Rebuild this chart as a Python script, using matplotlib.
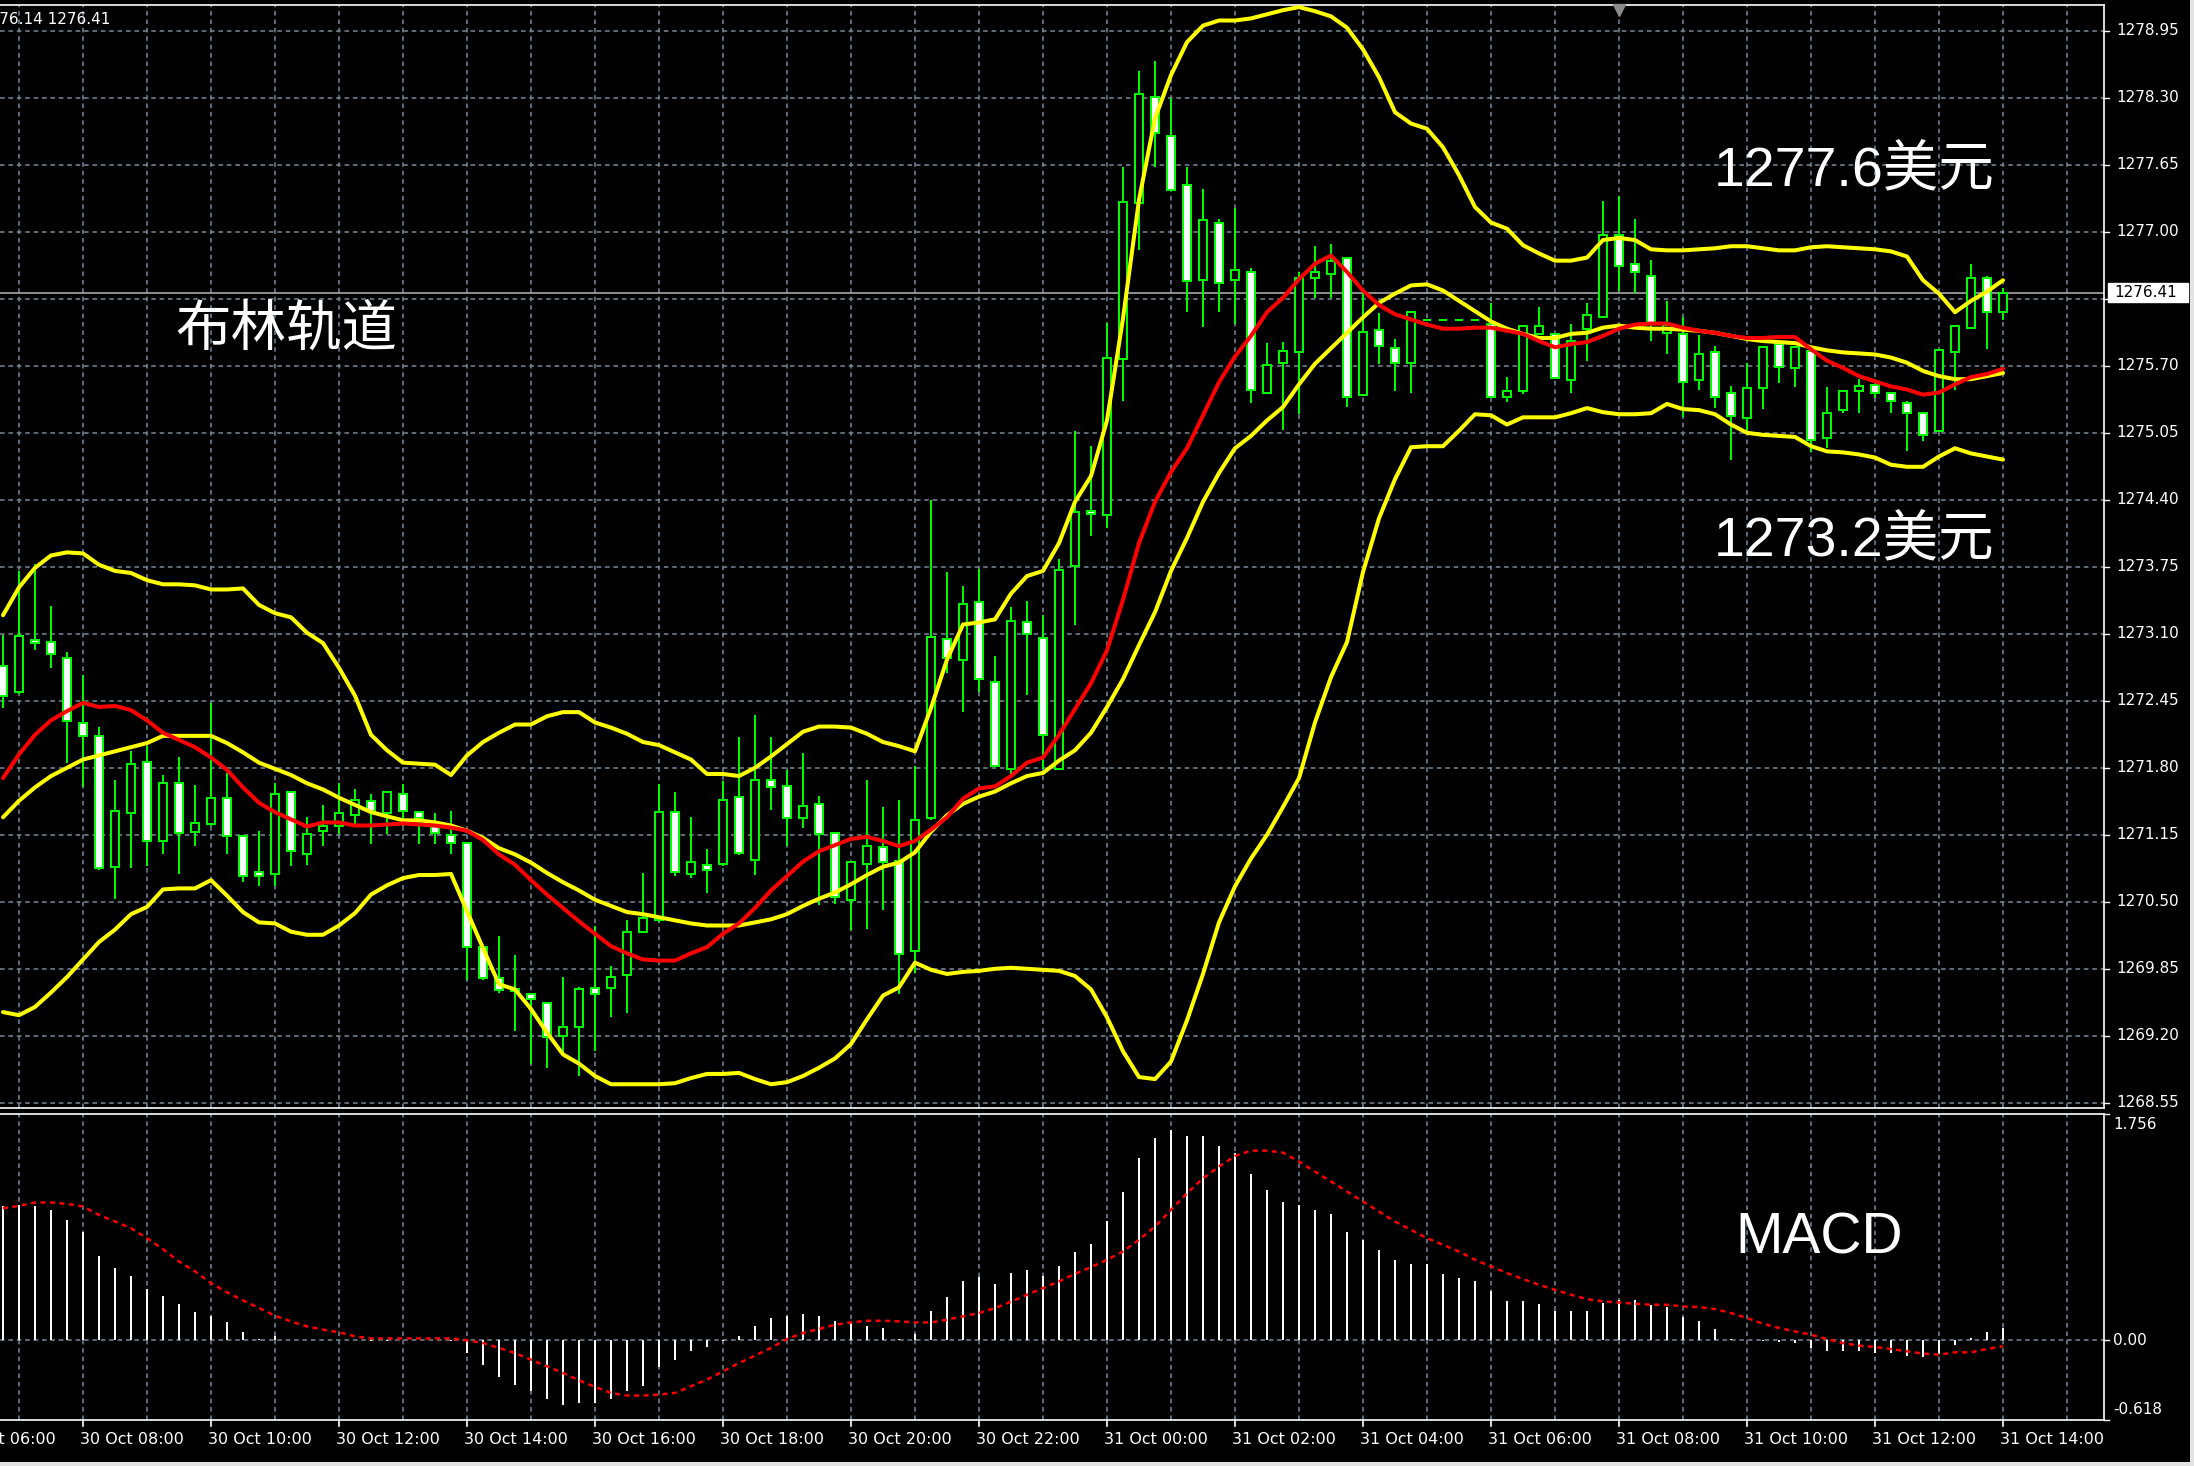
import matplotlib
matplotlib.use("Agg")
import matplotlib.pyplot as plt
from matplotlib.patches import Rectangle
import numpy as np

# ---------------- data (M15 bars, 30 Oct 06:45 -> 31 Oct 14:00) ----------------
opens = [1272.79,1272.54,1273.04,1273.02,1272.87,1272.23,1272.11,1270.84,1271.36,1271.86,
         1271.09,1271.65,1271.18,1271.25,1271.51,1271.14,1270.79,1270.77,1271.57,1270.96,
         1271.19,1271.24,1271.34,1271.48,1271.36,1271.55,1271.37,1271.24,1271.15,1271.07,
         1270.06,1269.76,1269.65,1269.61,1269.52,1269.20,1269.29,1269.66,1269.66,1269.79,
         1270.21,1270.32,1271.37,1270.77,1270.86,1270.87,1271.52,1270.91,1271.68,1271.62,
         1271.31,1271.45,1271.17,1270.52,1270.87,1271.03,1270.90,1270.02,1271.31,1273.05,
         1272.85,1273.41,1272.63,1271.79,1273.21,1273.06,1271.79,1273.76,1274.29,1274.25,
         1275.77,1277.28,1278.31,1277.93,1277.45,1276.53,1277.09,1276.53,1276.61,1275.44,
         1275.73,1275.83,1276.55,1276.59,1276.75,1275.42,1276.05,1275.87,1275.73,1276.14,
         1276.14,1276.14,1276.14,1276.11,1275.40,1275.46,1276.01,1276.01,1275.56,1276.06,
         1276.17,1276.97,1276.69,1276.57,1276.02,1276.01,1275.56,1275.83,1275.44,1275.19,
         1275.48,1275.91,1275.68,1275.84,1275.00,1275.27,1275.46,1275.51,1275.44,1275.34,
         1275.24,1275.07,1275.83,1276.07,1276.55,1276.22]
highs = [1273.09,1273.71,1273.78,1273.37,1272.92,1272.70,1272.20,1271.68,1271.96,1272.01,
         1271.73,1271.90,1271.63,1272.43,1271.75,1271.14,1271.19,1271.65,1271.57,1271.32,
         1271.44,1271.65,1271.59,1271.55,1271.57,1271.64,1271.37,1271.36,1271.38,1271.07,
         1270.08,1270.17,1269.98,1269.61,1269.52,1269.77,1269.67,1270.27,1269.88,1270.32,
         1270.78,1271.64,1271.57,1271.32,1271.01,1271.67,1272.10,1272.31,1272.10,1271.78,
         1271.94,1271.53,1271.17,1270.89,1271.68,1271.42,1271.49,1271.82,1274.40,1273.70,
         1273.56,1273.73,1272.88,1273.36,1273.42,1273.28,1273.83,1275.07,1274.92,1276.12,
         1277.63,1278.56,1278.66,1278.30,1277.63,1277.42,1277.12,1277.23,1276.65,1275.92,
         1275.93,1276.61,1276.86,1276.88,1276.75,1276.41,1276.21,1275.96,1276.23,1276.14,
         1276.14,1276.14,1276.14,1276.31,1275.59,1276.09,1276.27,1276.01,1276.11,1276.31,
         1277.30,1277.35,1277.12,1276.73,1276.33,1276.17,1276.00,1275.89,1275.50,1275.73,
         1275.88,1275.91,1275.88,1275.88,1275.49,1275.46,1275.57,1275.51,1275.44,1275.36,
         1275.24,1275.86,1276.09,1276.69,1276.57,1276.45]
lows = [1272.38,1272.52,1272.94,1272.77,1271.85,1271.61,1270.81,1270.53,1270.83,1270.85,
        1270.96,1270.77,1271.04,1271.24,1270.96,1270.69,1270.65,1270.65,1270.85,1270.86,
        1271.04,1271.16,1271.24,1271.06,1271.16,1271.24,1271.06,1271.06,1270.96,1269.74,
        1269.74,1269.62,1269.25,1268.93,1268.89,1269.04,1268.81,1269.05,1269.38,1269.42,
        1270.20,1270.30,1270.75,1270.73,1270.59,1270.85,1270.95,1270.76,1271.39,1271.04,
        1271.22,1270.47,1270.48,1270.23,1270.24,1270.42,1269.61,1269.81,1271.29,1272.72,
        1272.34,1272.54,1271.82,1271.74,1272.51,1271.79,1271.79,1273.19,1274.05,1274.13,
        1275.36,1276.82,1277.63,1277.41,1276.22,1276.08,1276.22,1276.11,1275.34,1275.44,
        1275.08,1275.23,1276.36,1276.36,1275.30,1275.42,1275.72,1275.46,1275.44,1276.14,
        1276.14,1276.14,1276.14,1275.40,1275.35,1275.43,1276.01,1275.58,1275.44,1275.75,
        1276.17,1276.43,1276.41,1275.94,1275.81,1275.20,1275.47,1275.29,1274.79,1275.07,
        1275.28,1275.53,1275.49,1274.86,1274.90,1275.24,1275.24,1275.39,1275.24,1274.87,
        1274.97,1275.07,1275.47,1276.07,1275.86,1276.14]
closes = [1272.50,1273.08,1273.01,1272.90,1272.25,1272.11,1270.83,1271.38,1271.84,1271.09,
          1271.65,1271.17,1271.26,1271.51,1271.14,1270.75,1270.75,1271.55,1270.99,1271.16,
          1271.24,1271.36,1271.49,1271.38,1271.57,1271.38,1271.31,1271.17,1271.07,1270.06,
          1269.76,1269.64,1269.63,1269.56,1269.19,1269.29,1269.65,1269.61,1269.77,1270.21,
          1270.34,1271.37,1270.79,1270.89,1270.81,1271.49,1270.97,1271.68,1271.61,1271.31,
          1271.43,1271.16,1270.55,1270.89,1271.04,1270.89,1269.99,1271.29,1273.07,1272.87,
          1273.39,1272.66,1271.82,1273.22,1273.10,1272.12,1273.72,1274.28,1274.26,1275.78,
          1277.29,1278.34,1277.96,1277.41,1276.52,1277.11,1276.50,1276.63,1275.47,1275.71,
          1275.84,1276.55,1276.61,1276.72,1275.40,1276.03,1275.89,1275.73,1276.22,1276.14,
          1276.14,1276.14,1276.14,1275.40,1275.46,1276.09,1276.09,1275.58,1275.94,1276.19,
          1276.97,1276.67,1276.61,1276.12,1276.10,1275.54,1275.81,1275.40,1275.21,1275.48,
          1275.88,1275.69,1275.88,1274.98,1275.24,1275.46,1275.50,1275.44,1275.36,1275.24,
          1275.03,1275.85,1276.09,1276.55,1276.22,1276.41]

bb_upper = [1273.28,1273.55,1273.74,1273.86,1273.89,1273.88,1273.77,1273.71,1273.69,1273.62,
            1273.58,1273.58,1273.57,1273.53,1273.53,1273.54,1273.38,1273.30,1273.26,1273.11,
            1273.01,1272.77,1272.50,1272.12,1271.97,1271.85,1271.84,1271.83,1271.73,1271.92,
            1272.05,1272.14,1272.22,1272.22,1272.30,1272.34,1272.34,1272.24,1272.19,1272.13,
            1272.05,1272.02,1271.95,1271.88,1271.74,1271.74,1271.72,1271.80,1271.91,1272.03,
            1272.15,1272.20,1272.20,1272.19,1272.13,1272.05,1272.01,1271.96,1272.38,1272.85,
            1273.19,1273.21,1273.24,1273.49,1273.66,1273.71,1273.98,1274.38,1274.63,1275.17,
            1276.16,1277.31,1278.10,1278.52,1278.84,1279.00,1279.05,1279.05,1279.07,1279.11,
            1279.15,1279.18,1279.14,1279.09,1278.98,1278.77,1278.50,1278.16,1278.05,1278.00,
            1277.82,1277.55,1277.24,1277.09,1277.03,1276.87,1276.79,1276.72,1276.72,1276.75,
            1276.92,1276.94,1276.92,1276.83,1276.82,1276.82,1276.83,1276.84,1276.86,1276.86,
            1276.84,1276.82,1276.82,1276.85,1276.86,1276.85,1276.84,1276.83,1276.81,1276.76,
            1276.53,1276.40,1276.22,1276.33,1276.42,1276.53]
bb_middle = [1271.32,1271.48,1271.61,1271.72,1271.80,1271.88,1271.92,1271.96,1272.00,1272.04,
             1272.11,1272.11,1272.11,1272.11,1272.04,1271.95,1271.85,1271.79,1271.73,1271.65,
             1271.59,1271.51,1271.44,1271.37,1271.33,1271.29,1271.29,1271.27,1271.24,1271.19,
             1271.12,1271.02,1270.96,1270.88,1270.78,1270.69,1270.61,1270.52,1270.46,1270.40,
             1270.38,1270.35,1270.32,1270.29,1270.27,1270.27,1270.27,1270.30,1270.33,1270.38,
             1270.46,1270.53,1270.59,1270.67,1270.76,1270.84,1270.88,1270.98,1271.18,1271.34,
             1271.45,1271.52,1271.57,1271.65,1271.72,1271.75,1271.87,1271.97,1272.14,1272.39,
             1272.66,1272.99,1273.31,1273.71,1274.03,1274.38,1274.66,1274.90,1275.02,1275.17,
             1275.30,1275.52,1275.72,1275.87,1276.02,1276.17,1276.31,1276.40,1276.48,1276.49,
             1276.43,1276.33,1276.23,1276.13,1276.06,1276.01,1275.97,1275.97,1276.01,1276.02,
             1276.07,1276.09,1276.07,1276.06,1276.06,1276.05,1276.04,1276.02,1275.99,1275.96,
             1275.94,1275.93,1275.92,1275.88,1275.85,1275.83,1275.82,1275.81,1275.78,1275.73,
             1275.65,1275.60,1275.57,1275.57,1275.60,1275.63]
ma_red = [1271.70,1271.93,1272.12,1272.26,1272.35,1272.43,1272.39,1272.40,1272.36,1272.26,
          1272.14,1272.07,1272.00,1271.90,1271.78,1271.61,1271.46,1271.37,1271.30,1271.23,
          1271.27,1271.27,1271.24,1271.24,1271.25,1271.26,1271.25,1271.24,1271.22,1271.19,
          1271.10,1270.96,1270.86,1270.71,1270.57,1270.44,1270.31,1270.19,1270.07,1270.00,
          1269.94,1269.93,1269.93,1270.00,1270.06,1270.19,1270.29,1270.44,1270.61,1270.75,
          1270.89,1270.99,1271.05,1271.11,1271.13,1271.09,1271.04,1271.09,1271.20,1271.32,
          1271.50,1271.60,1271.62,1271.72,1271.85,1271.90,1272.12,1272.37,1272.62,1272.94,
          1273.43,1273.98,1274.38,1274.67,1274.90,1275.22,1275.54,1275.79,1275.99,1276.22,
          1276.36,1276.54,1276.69,1276.77,1276.61,1276.43,1276.29,1276.20,1276.15,1276.10,
          1276.06,1276.06,1276.07,1276.07,1276.04,1276.01,1275.94,1275.88,1275.91,1275.93,
          1275.99,1276.06,1276.10,1276.11,1276.11,1276.07,1276.04,1276.02,1275.99,1275.97,
          1275.97,1275.98,1275.98,1275.86,1275.75,1275.68,1275.60,1275.55,1275.50,1275.47,
          1275.42,1275.44,1275.52,1275.59,1275.62,1275.67]
bb_lower = [1269.43,1269.40,1269.48,1269.62,1269.77,1269.94,1270.11,1270.23,1270.38,1270.45,
            1270.62,1270.63,1270.63,1270.71,1270.56,1270.40,1270.30,1270.29,1270.21,1270.18,
            1270.18,1270.27,1270.39,1270.57,1270.66,1270.73,1270.76,1270.76,1270.77,1270.41,
            1270.05,1269.70,1269.65,1269.46,1269.23,1269.02,1268.93,1268.81,1268.73,1268.73,
            1268.73,1268.73,1268.74,1268.79,1268.83,1268.83,1268.84,1268.78,1268.73,1268.75,
            1268.81,1268.89,1268.98,1269.12,1269.36,1269.59,1269.67,1269.91,1269.84,1269.80,
            1269.82,1269.83,1269.85,1269.86,1269.85,1269.84,1269.83,1269.78,1269.65,1269.38,
            1269.05,1268.80,1268.78,1268.95,1269.35,1269.80,1270.30,1270.65,1270.92,1271.15,
            1271.42,1271.70,1272.24,1272.68,1273.02,1273.70,1274.22,1274.60,1274.91,1274.92,
            1274.92,1275.07,1275.23,1275.22,1275.13,1275.20,1275.20,1275.20,1275.24,1275.29,
            1275.25,1275.23,1275.23,1275.24,1275.33,1275.28,1275.27,1275.23,1275.13,1275.05,
            1275.03,1275.02,1275.01,1274.92,1274.87,1274.86,1274.84,1274.81,1274.74,1274.72,
            1274.72,1274.82,1274.90,1274.85,1274.82,1274.79]

macd_hist = [1.043,1.051,1.043,1.012,0.935,0.844,0.656,0.565,0.501,0.400,
             0.346,0.284,0.222,0.191,0.145,0.065,0.010,0.036,0.005,0.004,
             0.003,0.002,0.001,-0.002,-0.003,0.002,0.003,0.002,-0.004,-0.098,
             -0.194,-0.284,-0.349,-0.395,-0.454,-0.501,-0.485,-0.485,-0.454,-0.395,
             -0.351,-0.209,-0.150,-0.085,-0.054,-0.008,0.036,0.114,0.173,0.191,
             0.207,0.191,0.147,0.134,0.114,0.096,0.010,0.052,0.225,0.333,
             0.457,0.488,0.439,0.522,0.547,0.501,0.578,0.689,0.749,0.922,
             1.154,1.412,1.567,1.632,1.585,1.585,1.508,1.451,1.291,1.167,
             1.074,1.051,1.012,0.981,0.842,0.780,0.702,0.625,0.594,0.594,
             0.516,0.483,0.457,0.380,0.302,0.302,0.284,0.225,0.225,0.225,
             0.289,0.310,0.315,0.276,0.258,0.181,0.147,0.088,0.010,0.003,
             -0.005,-0.010,-0.020,-0.059,-0.085,-0.085,-0.085,-0.098,-0.098,-0.119,
             -0.129,-0.103,-0.034,0.018,0.065,0.096]
macd_signal = [1.025,1.043,1.069,1.069,1.059,1.038,0.973,0.922,0.870,0.793,
               0.707,0.612,0.535,0.444,0.372,0.310,0.251,0.191,0.147,0.108,
               0.083,0.062,0.031,0.015,0.015,0.015,0.015,0.015,0.015,0.000,
               -0.021,-0.059,-0.098,-0.150,-0.201,-0.253,-0.310,-0.361,-0.408,-0.428,
               -0.428,-0.421,-0.408,-0.356,-0.305,-0.240,-0.176,-0.119,-0.059,0.010,
               0.057,0.088,0.121,0.139,0.152,0.152,0.147,0.139,0.139,0.160,
               0.186,0.212,0.250,0.300,0.354,0.405,0.457,0.516,0.568,0.625,
               0.689,0.780,0.883,1.012,1.141,1.257,1.348,1.430,1.472,1.472,
               1.456,1.387,1.309,1.232,1.154,1.077,0.999,0.922,0.857,0.793,
               0.741,0.689,0.625,0.573,0.522,0.475,0.431,0.392,0.354,0.320,
               0.302,0.294,0.284,0.276,0.276,0.263,0.258,0.243,0.212,0.173,
               0.129,0.096,0.070,0.044,0.010,-0.021,-0.041,-0.052,-0.067,-0.085,
               -0.103,-0.111,-0.093,-0.093,-0.067,-0.046]

time_labels = ["30 Oct 06:00", "30 Oct 08:00", "30 Oct 10:00", "30 Oct 12:00", "30 Oct 14:00",
               "30 Oct 16:00", "30 Oct 18:00", "30 Oct 20:00", "30 Oct 22:00", "31 Oct 00:00",
               "31 Oct 02:00", "31 Oct 04:00", "31 Oct 06:00", "31 Oct 08:00", "31 Oct 10:00",
               "31 Oct 12:00", "31 Oct 14:00"]
time_label_bar = [-3, 5, 13, 21, 29, 37, 45, 53, 61, 69, 77, 85, 93, 101, 109, 117, 125]
price_ticks = [1268.55, 1269.20, 1269.85, 1270.50, 1271.15, 1271.80, 1272.45, 1273.10,
               1273.75, 1274.40, 1275.05, 1275.70, 1276.35, 1277.00, 1277.65, 1278.30, 1278.95]
hidden_price_label = 1276.35   # covered by the bid box in the reference
macd_ticks = [1.756, 0.0, -0.618]
macd_tick_labels = ["1.756", "0.00", "-0.618"]
bid_price = 1276.41
header_text = "1276.14 1276.41"

# ---------------- figure ----------------
W, H, DPI = 2194, 1466, 100
fig = plt.figure(figsize=(W / DPI, H / DPI), dpi=DPI, facecolor="black")

MAIN_TOP, MAIN_BOT = 5, 1108
MACD_TOP, MACD_BOT = 1114, 1420
RIGHT = 2104

ax = fig.add_axes([0, (H - MAIN_BOT) / H, RIGHT / W, (MAIN_BOT - MAIN_TOP) / H], facecolor="black")
ax2 = fig.add_axes([0, (H - MACD_BOT) / H, RIGHT / W, (MACD_BOT - MACD_TOP) / H], facecolor="black")

n = len(closes)
idx = np.arange(n)
xlim = (-3 / 16, (RIGHT - 3) / 16)
ax.set_xlim(*xlim)
ax2.set_xlim(*xlim)

ppx = 0.65 / 67.0
ax.set_ylim(1278.95 - (MAIN_BOT - 30.8) * ppx, 1278.95 + (30.8 - MAIN_TOP) * ppx)
ax2.set_ylim(-0.618, 1.756)

for a in (ax, ax2):
    a.set_xticks([])
    a.set_yticks([])
    a.spines["left"].set_visible(False)
    for s in ("top", "right", "bottom"):
        a.spines[s].set_color("white")
        a.spines[s].set_linewidth(1.2)

grid_kw = dict(color="#778899", lw=1.1, linestyle=(0, (3, 2.5)), zorder=0.5)
hour_bars = np.arange(1, 131, 4)
for xg in hour_bars:
    ax.axvline(xg, **grid_kw)
    ax2.axvline(xg, **grid_kw)
for pt in price_ticks:
    ax.axhline(pt, **grid_kw)
ax2.axhline(0.0, **grid_kw)

ax.axhline(bid_price, color="#a8a8a8", lw=1.2, zorder=1)

o = np.array(opens); h = np.array(highs); l = np.array(lows); c = np.array(closes)
ax.vlines(idx, l, h, color="#00ff00", lw=1.4, zorder=2)
body_col = np.where(c < o, "white", "black")
ax.bar(idx, np.abs(c - o), bottom=np.minimum(o, c), width=0.5, color=body_col,
       edgecolor="#00ff00", linewidth=1.4, zorder=3)

for band in (bb_upper, bb_middle, bb_lower):
    ax.plot(idx, band, color="#ffff00", lw=2.9, zorder=4, solid_joinstyle="round",
            solid_capstyle="round")
ax.plot(idx, ma_red, color="#ff0000", lw=2.9, zorder=4.5, solid_joinstyle="round",
        solid_capstyle="round")

ax2.vlines(idx, 0, macd_hist, color="white", lw=1.4, zorder=2)
ax2.plot(idx, macd_signal, color="#ff0000", lw=1.8, linestyle=(0, (2, 1.8)), zorder=3)

ytr = ax.get_yaxis_transform()
for pt in price_ticks:
    ax.plot([1.0, 1.0 + 5 / RIGHT], [pt, pt], transform=ytr, color="white", lw=1.0, clip_on=False)
    if pt == hidden_price_label:
        continue
    ax.text(1.0 + 12 / RIGHT, pt, f"{pt:.2f}", transform=ytr, color="white", fontsize=11,
            va="center", ha="left", clip_on=False)
ax.add_patch(Rectangle((1.0 + 4 / RIGHT, bid_price - 9.5 * ppx), 80 / RIGHT, 19 * ppx,
                       transform=ytr, facecolor="white", edgecolor="white", clip_on=False, zorder=6))
ax.text(1.0 + 10 / RIGHT, bid_price, f"{bid_price:.2f}", transform=ytr, color="black", fontsize=11,
        va="center", ha="left", clip_on=False, zorder=7)

ytr2 = ax2.get_yaxis_transform()
vas = ["top", "center", "bottom"]
for val, lab, va in zip(macd_ticks, macd_tick_labels, vas):
    ax2.plot([1.0, 1.0 + 5 / RIGHT], [val, val], transform=ytr2, color="white", lw=1.0, clip_on=False)
    yoff = {"top": -0.02, "center": 0.0, "bottom": 0.02}[va]
    ax2.text(1.0 + 9 / RIGHT, val + yoff, lab, transform=ytr2, color="white", fontsize=11,
             va=va, ha="left", clip_on=False)

xtr = ax2.get_xaxis_transform()
for b, lab in zip(time_label_bar, time_labels):
    ax2.plot([b, b], [0, -6 / (MACD_BOT - MACD_TOP)], transform=xtr, color="white", lw=1.2, clip_on=False)
    ax2.text(b - 0.2, -12 / (MACD_BOT - MACD_TOP), lab, transform=xtr, color="white", fontsize=11.5,
             va="top", ha="left", clip_on=False)

ax.plot([101], [1278.95 + (30.8 - 10) * ppx], marker="v", color="#8a8a8a", ms=9, clip_on=False, zorder=6)

fig.text(-20 / W, 1 - 20 / H, header_text, color="white", fontsize=11, va="center", ha="left")

cjk = ["Liberation Sans", "Noto Sans CJK SC", "DejaVu Sans"]
fig.text(175 / W, 1 - 332 / H, "布林轨道", color="white", fontsize=40, family=cjk, va="center", ha="left")
fig.text(1714 / W, 1 - 171 / H, "1277.6美元", color="white", fontsize=40, family=cjk, va="center", ha="left")
fig.text(1714 / W, 1 - 541 / H, "1273.2美元", color="white", fontsize=40, family=cjk, va="center", ha="left")
fig.text(1735 / W, 1 - 1238 / H, "MACD", color="white", fontsize=41, family=cjk, va="center", ha="left")

fig.patches.append(Rectangle((2190 / W, 0), 4 / W, 1, transform=fig.transFigure, facecolor="#e4e4e4",
                             edgecolor="none"))
fig.patches.append(Rectangle((0, 0), 1, 4 / H, transform=fig.transFigure, facecolor="#e4e4e4",
                             edgecolor="none"))

fig.savefig("out.png", dpi=DPI, facecolor="black")
